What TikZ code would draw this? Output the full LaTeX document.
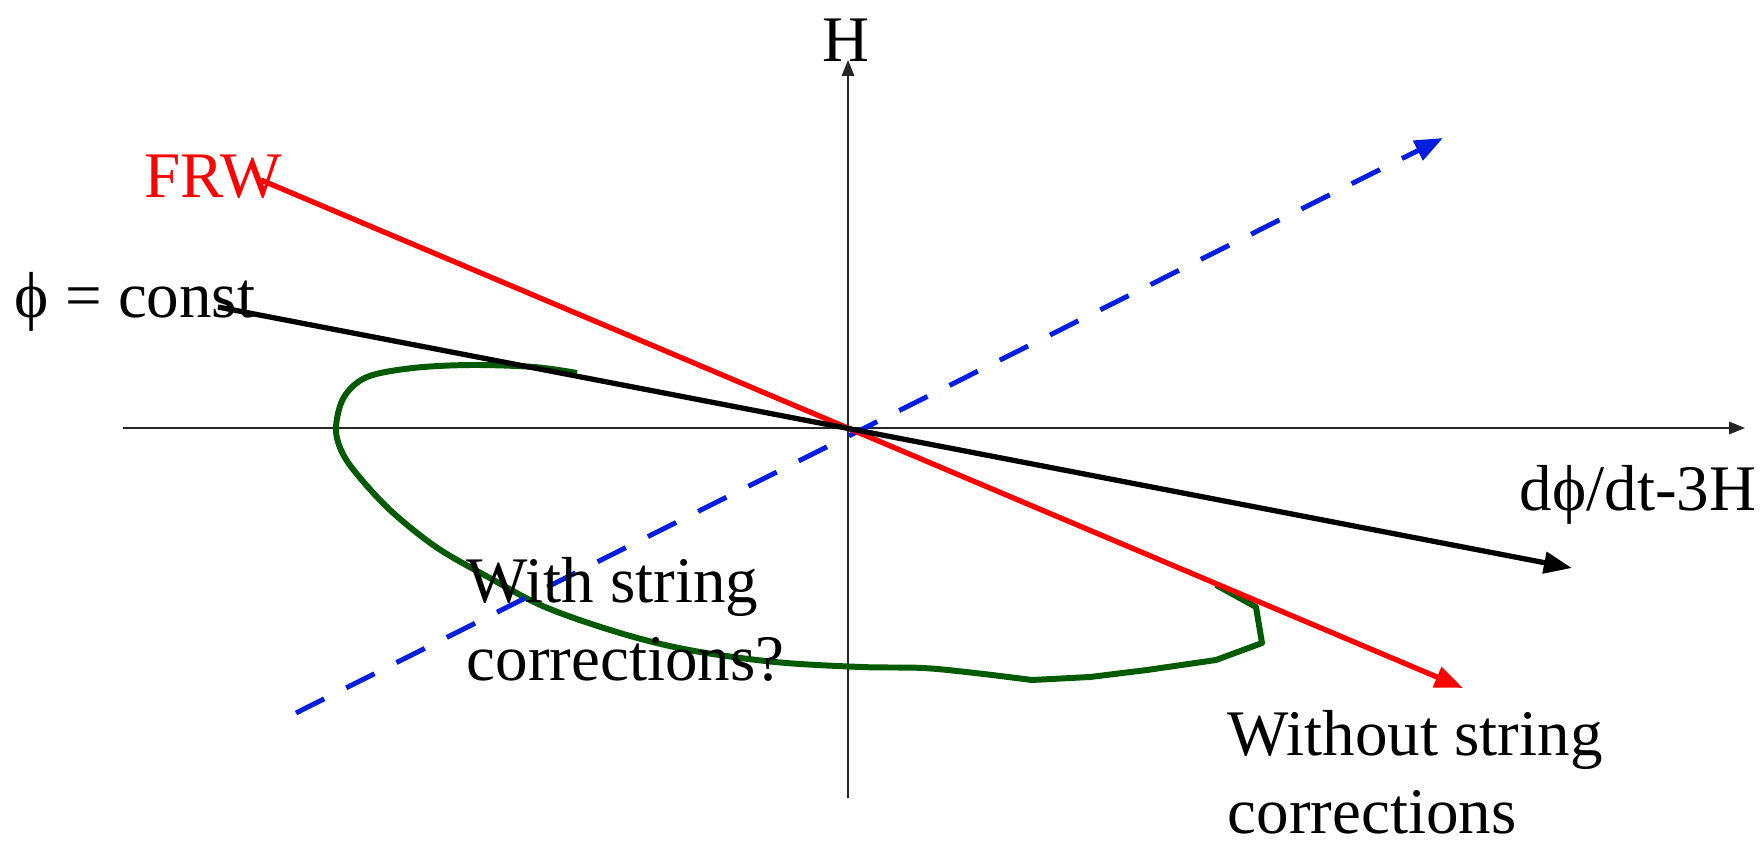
\documentclass[tikz,border=0pt]{standalone}
\usepackage{fontspec}
\setmainfont{Liberation Serif}
\usetikzlibrary{arrows.meta,positioning}
\definecolor{frwred}{RGB}{255,0,0}
\definecolor{dashblue}{RGB}{0,30,225}
\definecolor{loopgreen}{RGB}{0,90,0}
\tikzset{
  axis/.style  = {-{Triangle[length=4.5pt,width=3.5pt]}, line width=0.6pt, black!85},
  traj/.style  = {-{Triangle[length=8pt,width=6pt]}, line width=1.5pt},
  frw/.style   = {traj, frwred},
  cst/.style   = {traj, black},
  dsh/.style   = {traj, dashblue, line width=1.4pt, dash pattern=on 9pt off 7pt},
  lp/.style    = {loopgreen, line width=1.7pt, line join=round},
  lbl/.style   = {font=\fontsize{18.5}{22}\selectfont, inner sep=0pt, align=left},
}
\begin{document}
\begin{tikzpicture}[x=0.1mm, y=-0.1mm]
  \useasboundingbox (0,0) rectangle (1761,842);

  % axes
  \coordinate (O)  at (848,428);
  \coordinate (xl) at (123,428);
  \coordinate (xr) at (1745,428);
  \coordinate (yb) at (848,798);
  \coordinate (yt) at (848,60);
  \draw[axis] (xl) -- (xr);
  \draw[axis] (yb) -- (yt);
  \node[lbl, anchor=base] (hl) at (846,62) {H};
  \node[lbl, anchor=base east] (xlab) at (1757,510) {dϕ/dt-3H};

  % loop with string corrections
  \draw[lp] plot[smooth, tension=0.55] coordinates {
    (577,373) (534,367) (471,365) (413,368) (367,377) (344,397) (336,427)
    (341,450) (356,473) (390,510) (436,547) (488,577) (545,607) (620,633)
    (689,650) (775,662) (861,667) (923,668) (975,673) (1032,680)}
    -- (1090,677) -- (1147,670) -- (1216,660) -- (1262,643) -- (1256,607)
    -- (1216,585);

  % trajectories
  \coordinate (frwS) at (261,180);
  \coordinate (frwE) at (1463,688);
  \coordinate (cstS) at (218,307);
  \coordinate (cstE) at (1572,568);
  \coordinate (dshS) at (296,713);
  \coordinate (dshE) at (1443,138);
  \draw[dsh] (dshS) -- (dshE);
  \draw[frw] (frwS) -- (frwE);
  \draw[cst] (cstS) -- (cstE);

  \node[lbl, anchor=base west, text=frwred] (frwl) at (144,197) {FRW};
  \node[lbl, anchor=base west] (cstl) at (14,317) {ϕ = const};
  \node[lbl, anchor=base west] (withl) at (466,680) {With string\\corrections?};
  \node[lbl, anchor=base west] (wol) at (1227,833) {Without string\\corrections};
\end{tikzpicture}
\end{document}
